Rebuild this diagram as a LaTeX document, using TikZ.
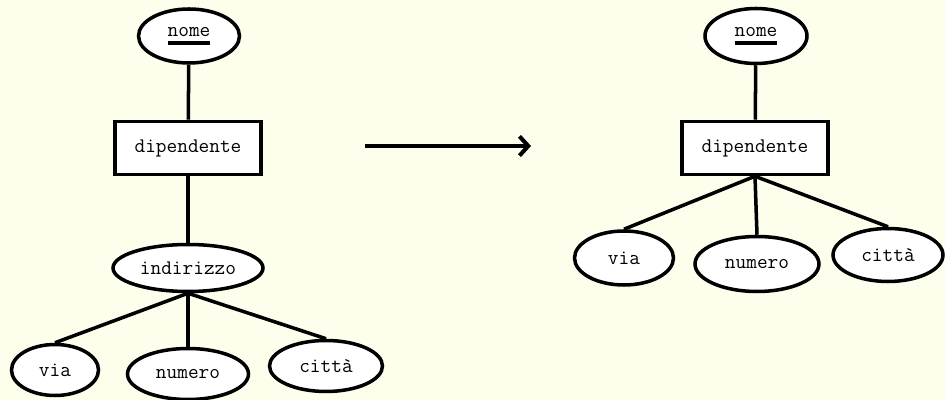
\documentclass[tikz,border=0pt]{standalone}
\usetikzlibrary{shapes.geometric,arrows.meta}
\definecolor{paper}{RGB}{254,254,236}
% key attribute: text with a heavy rule under it
\newcommand{\keyattr}[1]{\setbox0\hbox{#1}\rlap{\rule[-4.5pt]{\wd0}{1.8pt}}\box0}
\begin{document}
\begin{tikzpicture}[line width=2pt,font=\fontsize{11.8}{13}\ttfamily,
  attr/.style={ellipse,draw=black,fill=white,inner sep=0pt,minimum width=#1,minimum height=1.02cm},
  entity/.style={rectangle,draw=black,fill=white,minimum width=2.92cm,minimum height=1.06cm},
  link/.style={draw=black}]
\fill[paper] (0,0) rectangle (18.9,8);
\useasboundingbox (0,0) rectangle (18.9,8);
% composite attribute kept as it is
\node[attr=2.02cm,minimum height=1.08cm] (nomeA) at (3.78,7.28) {\keyattr{nome}};
\node[entity] (dipA) at (3.76,5.04) {dipendente};
\node[attr=3.0cm,minimum height=0.94cm] (indA) at (3.76,2.64) {indirizzo};
\node[attr=1.74cm] (viaA) at (1.10,0.60) {via};
\node[attr=2.42cm] (numA) at (3.76,0.52) {numero};
\node[attr=2.26cm] (citA) at (6.52,0.68) {città};
\draw[link] (nomeA) -- (dipA);
\draw[link] (dipA) -- (indA);
\draw[link] (indA.south) -- (viaA.north);
\draw[link] (indA.south) -- (numA.north);
\draw[link] (indA.south) -- (citA.north);
% translation
\coordinate (from) at (7.30,5.08);
\coordinate (to) at (10.62,5.08);
\draw[-{Straight Barb[length=5pt,width=11pt]},line width=2.3pt] (from) -- (to);
% sub-attributes moved onto the entity
\node[attr=2.04cm,minimum height=1.1cm] (nomeB) at (15.12,7.28) {\keyattr{nome}};
\node[entity] (dipB) at (15.10,5.04) {dipendente};
\node[attr=1.98cm,minimum height=1.08cm] (viaB) at (12.48,2.84) {via};
\node[attr=2.48cm,minimum height=1.1cm] (numB) at (15.14,2.72) {numero};
\node[attr=2.2cm,minimum height=1.06cm] (citB) at (17.76,2.90) {città};
\draw[link] (nomeB) -- (dipB);
\draw[link] (dipB.south) -- (viaB.north);
\draw[link] (dipB.south) -- (numB.north);
\draw[link] (dipB.south) -- (citB.north);
\end{tikzpicture}
\end{document}
